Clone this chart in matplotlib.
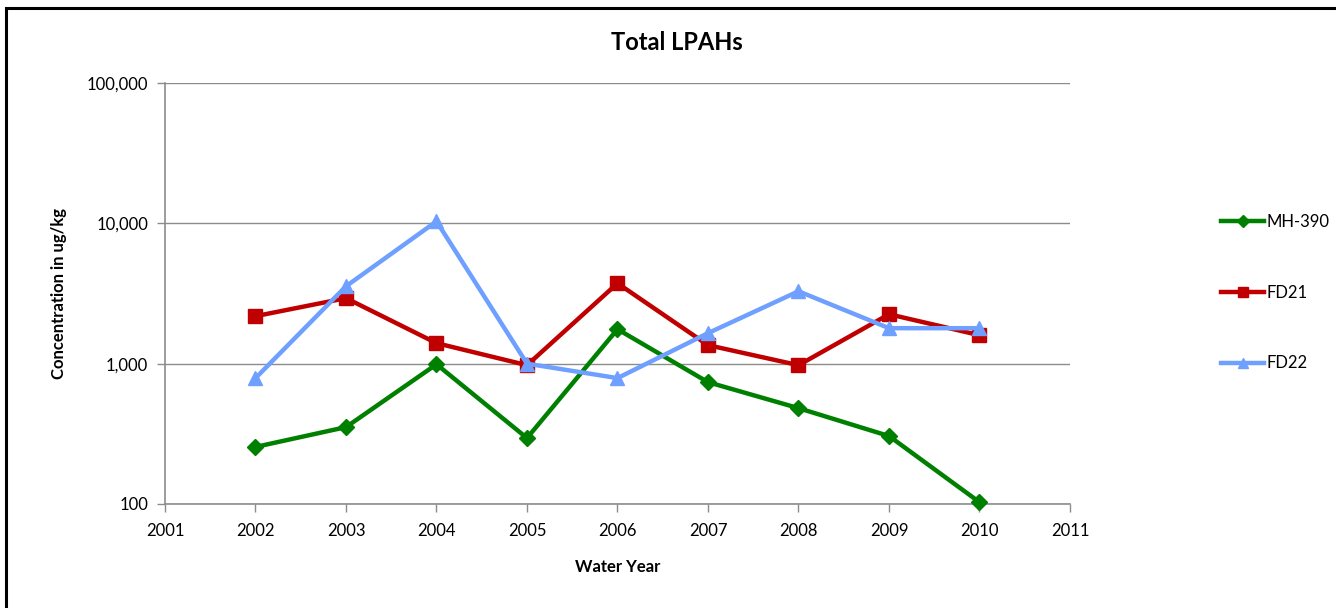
import matplotlib
matplotlib.use("Agg")
import matplotlib.pyplot as plt
from matplotlib.ticker import FixedLocator, FuncFormatter, NullLocator
from matplotlib.patches import Rectangle

plt.rcParams['font.family'] = ['Lato', 'DejaVu Sans']

years = [2002, 2003, 2004, 2005, 2006, 2007, 2008, 2009, 2010]
mh390 = [255, 353, 990, 295, 1760, 738, 482, 305, 103]
fd21 = [2180, 2930, 1400, 975, 3740, 1355, 975, 2250, 1595]
fd22 = [789, 3560, 10330, 1000, 789, 1650, 3280, 1790, 1790]

series_names = ["MH-390", "FD21", "FD22"]
x_ticks = list(range(2001, 2012))
y_ticks = [100, 1000, 10000, 100000]

W, H = 1336, 608
fig = plt.figure(figsize=(W / 100, H / 100), dpi=100)
fig.patch.set_facecolor("white")

# outer chart frame (right and bottom edges run off the canvas)
fig.patches.append(Rectangle((6 / W, -0.05), 1.2, 1 - 8 / H + 0.05,
                             transform=fig.transFigure, fill=False,
                             edgecolor="black", linewidth=2.2, zorder=0))

ax = fig.add_axes([165 / W, 1 - 504 / H, (1070 - 165) / W, (504 - 83) / H])
ax.set_yscale("log")
ax.set_xlim(2001, 2011)
ax.set_ylim(100, 100000)

grey = "#8c8c8c"
ax.yaxis.set_major_locator(FixedLocator(y_ticks))
ax.yaxis.set_minor_locator(NullLocator())
ax.yaxis.set_major_formatter(FuncFormatter(lambda v, p: f"{int(round(v)):,}"))
ax.xaxis.set_major_locator(FixedLocator(x_ticks))
ax.grid(axis="y", color=grey, linewidth=1.0, zorder=0)

for side in ["top", "right"]:
    ax.spines[side].set_visible(False)
for side in ["left", "bottom"]:
    ax.spines[side].set_color(grey)
    ax.spines[side].set_linewidth(1.2)
ax.tick_params(axis="both", which="major", direction="out", length=6,
               color=grey, width=1.0, labelsize=12, labelcolor="black")
ax.tick_params(axis="x", pad=8)
ax.tick_params(axis="y", pad=6)

ax.plot(years, mh390, color="#008000", linewidth=3.2, marker="D",
        markersize=8, label=series_names[0], zorder=3, clip_on=False)
ax.plot(years, fd21, color="#c00000", linewidth=3.2, marker="s",
        markersize=10, label=series_names[1], zorder=4, clip_on=False)
ax.plot(years, fd22, color="#6fa0ff", linewidth=3.2, marker="^",
        markersize=10, label=series_names[2], zorder=5, clip_on=False)

fig.text(677 / W, 1 - 42 / H, "Total LPAHs", fontsize=17, fontweight="bold",
         ha="center", va="center")
ax.set_xlabel("Water Year", fontsize=12, fontweight="bold", labelpad=14)
ax.set_ylabel("Concentration in ug/kg", fontsize=12, fontweight="bold", labelpad=14)

leg = fig.legend(loc="upper left", bbox_to_anchor=(1221 / W, 1 - 214 / H),
                 frameon=False, fontsize=12, labelspacing=3.28,
                 handlelength=2.6, handletextpad=0.1, markerscale=0.75,
                 borderaxespad=0, borderpad=0)

fig.savefig("out.png", dpi=100, facecolor="white")
